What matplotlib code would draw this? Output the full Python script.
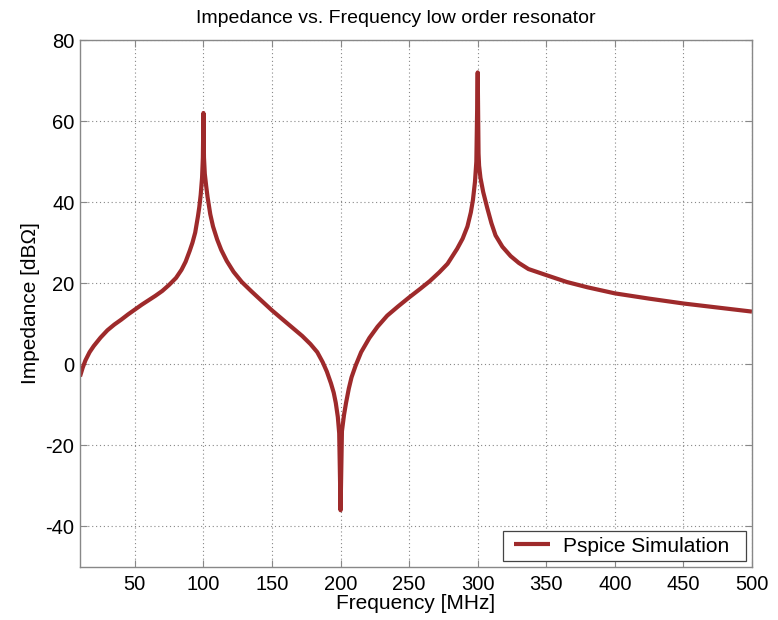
import matplotlib
matplotlib.use("Agg")
import matplotlib.pyplot as plt
from matplotlib.lines import Line2D
from matplotlib.legend_handler import HandlerLine2D

freq_mhz = [10, 12, 14, 17, 20, 25, 30, 35, 40, 45, 50, 55, 60, 65, 70, 75, 80, 84, 87,
            90, 92, 94, 96, 97, 98, 99, 99.6, 100, 100.4, 101, 102, 103, 105, 107, 110,
            113, 117, 122, 128, 135, 142, 150, 158, 165, 172, 178, 183, 187, 190, 193,
            195, 196.5, 198, 199, 200, 201, 202.5, 204, 206, 208, 211, 215, 221, 227, 234,
            242, 250, 258, 265, 272, 278, 285, 289, 292.5, 295, 296.5, 298, 299, 300,
            300.6, 301, 302, 304, 307, 310, 313, 318, 324, 330, 337, 350, 365, 380, 400,
            425, 450, 475, 500]
impedance_db = [-3, -0.8, 1, 3, 4.5, 6.6, 8.4, 9.8, 11, 12.3, 13.5, 14.7, 15.8, 16.9,
                18.1, 19.6, 21.3, 23.3, 25.3, 28, 30, 32.5, 36.5, 38.8, 41.8, 46, 51, 62,
                51, 47, 44, 41.3, 37, 34, 30.8, 28.2, 25.5, 22.8, 20.3, 18, 15.8, 13.3,
                11, 9, 7, 5, 3, 0.5, -1.8, -4.7, -7, -9.5, -13, -17, -36, -16.5, -12.5,
                -9.5, -6, -3.2, -0.3, 3, 6.5, 9.3, 12, 14.3, 16.5, 18.6, 20.5, 22.7, 24.8,
                28.5, 31, 34, 37.5, 40.5, 45, 50, 72, 52, 49, 46, 42.5, 38.5, 34.8, 31.8,
                29, 26.7, 25, 23.5, 22, 20.3, 19, 17.5, 16.2, 15, 14, 13]

x_ticks = [50, 100, 150, 200, 250, 300, 350, 400, 450, 500]
y_ticks = [-40, -20, 0, 20, 40, 60, 80]

plt.rcParams['font.family'] = ['Liberation Sans', 'DejaVu Sans']
plt.rcParams['axes.unicode_minus'] = False

fig = plt.figure(figsize=(7.78, 6.2), dpi=100)
ax = fig.add_axes([80/778, 1 - 567/620, 672/778, 527/620])

ax.plot(freq_mhz, impedance_db, color='#9e2a2b', linewidth=3.0, label='Pspice Simulation  ',
        solid_joinstyle='round', solid_capstyle='butt')

ax.set_xlim(10, 500)
ax.set_ylim(-50, 80)
ax.set_xticks(x_ticks)
ax.set_yticks(y_ticks)
ax.grid(True, linestyle=(0, (1, 2.5)), color='#888888', linewidth=0.8)
ax.tick_params(direction='in', top=True, right=True, length=5, width=0.8,
               color='#888888', labelsize=14.5)
ax.tick_params(axis='y', pad=4)
ax.tick_params(axis='x', pad=6)
for sp in ax.spines.values():
    sp.set_color('#888888')
    sp.set_linewidth(1.0)

ax.set_title('Impedance vs. Frequency low order resonator', fontsize=14, pad=12, x=0.47)
ax.set_xlabel('Frequency [MHz]', fontsize=15, labelpad=0)
ax.set_ylabel('Impedance [dB\u03a9]', fontsize=15, labelpad=4)

leg = ax.legend(loc='lower right', fontsize=15, frameon=True, fancybox=False,
                edgecolor='#444444', handlelength=2.26, handletextpad=0.35,
                borderaxespad=0.3, borderpad=0.25, framealpha=1, numpoints=2,
                handler_map={Line2D: HandlerLine2D(marker_pad=0.25)})
leg.get_frame().set_linewidth(0.9)

fig.savefig('out.png', dpi=100)
